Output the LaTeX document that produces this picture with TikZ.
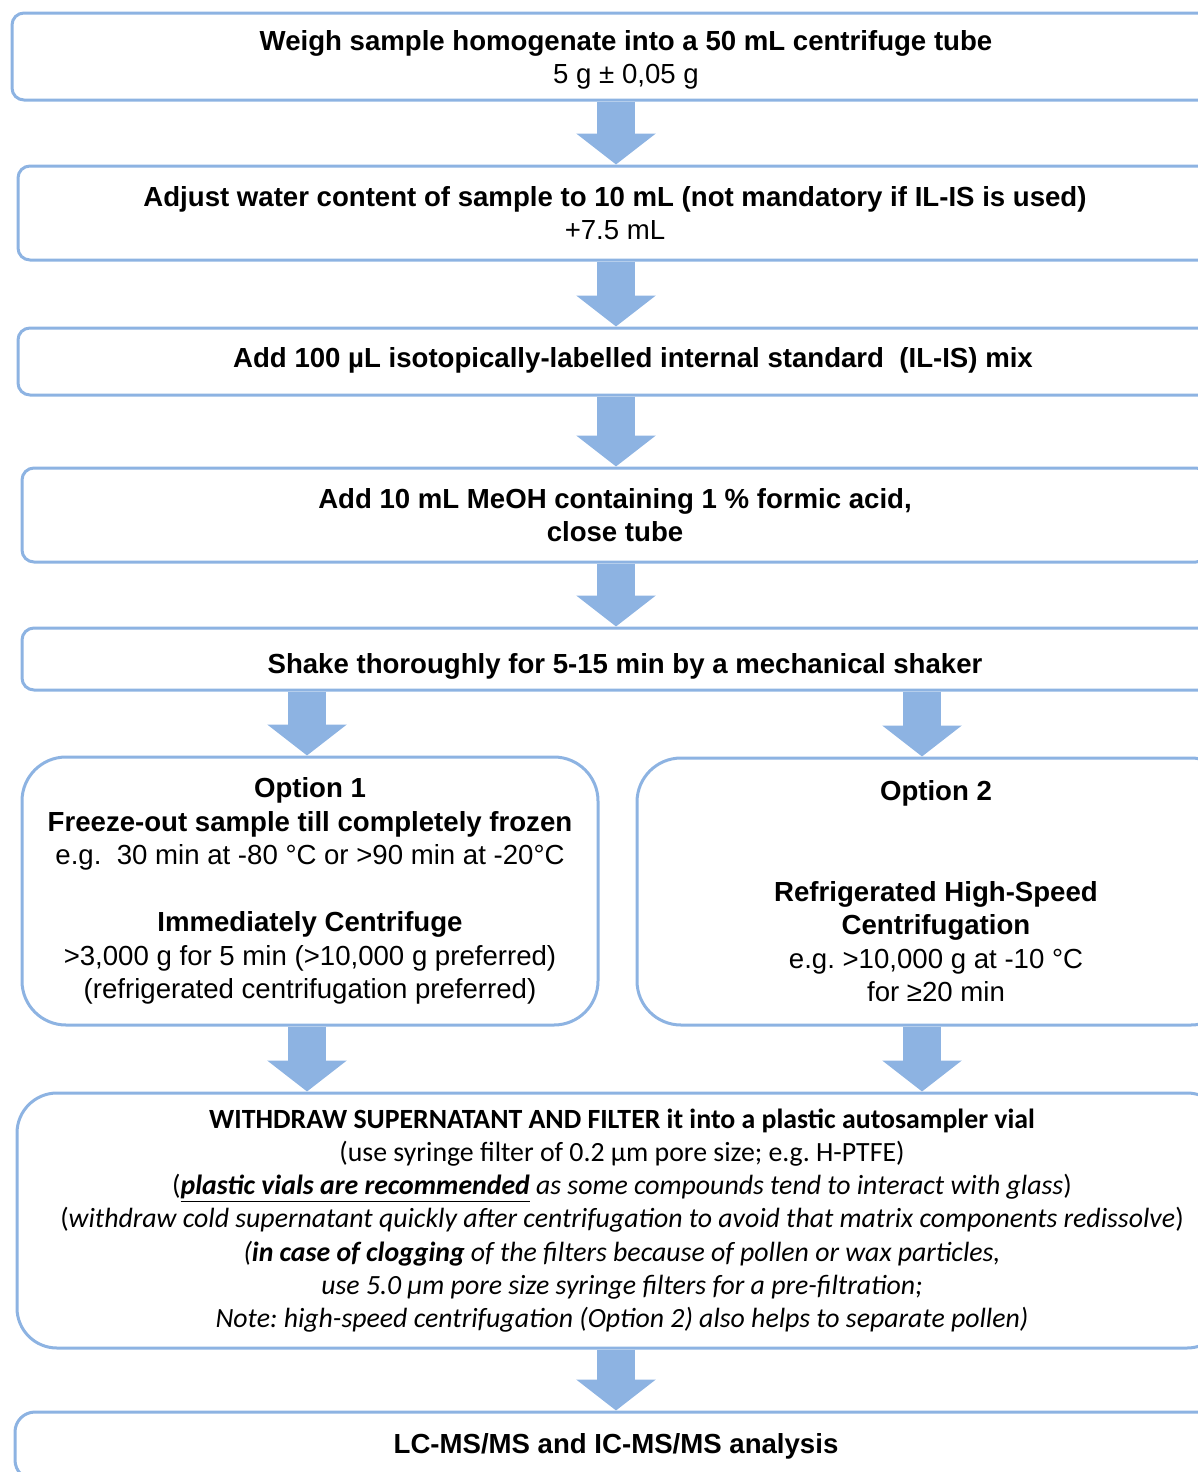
\documentclass[tikz,border=0pt]{standalone}
\usepackage{fontspec}
\setmainfont{Liberation Sans}
\newfontfamily\calibfont{Carlito}
\usetikzlibrary{arrows.meta}
\definecolor{flowblue}{HTML}{8DB3E2}
\frenchspacing

\begin{document}
\begin{tikzpicture}[
  x=0.5pt, y=-0.5pt,
  stepbox/.style={rectangle, rounded corners=6pt, draw=flowblue, line width=1.5pt,
    fill=white, minimum width=#1, inner sep=0pt, align=center,
    font=\fontsize{13.8}{16.75}\selectfont},
  optbox/.style={stepbox=#1, rounded corners=22pt},
  flow/.style={draw=flowblue, line width=19pt,
    -{Triangle[length=15.5pt, width=39pt]}}
]
\useasboundingbox (0,0) rectangle (1198,1472);
\clip (0,0) rectangle (1198,1472);

\node[stepbox=614pt, minimum height=43.5pt] (weigh) at (626,56.5) {
  \rule{0pt}{13.5pt}\textbf{Weigh sample homogenate into a 50 mL centrifuge tube}\\
  5 g ± 0,05 g};
\node[stepbox=597pt, minimum height=47pt] (water) at (615,213) {
  \textbf{Adjust water content of sample to 10 mL (not mandatory if IL-IS is used)}\\
  +7.5 mL};
\node[stepbox=615pt, minimum height=33.5pt, text height=6pt, text depth=0pt] (istd) at (633,361.5) {
  \textbf{Add 100 µL isotopically-labelled internal standard\ \ (IL-IS) mix}};
\node[stepbox=593pt, minimum height=47pt] (meoh) at (615,515) {
  \textbf{Add 10 mL MeOH containing 1 \% formic acid,}\\
  \textbf{close tube}};
\node[stepbox=603pt, minimum height=31pt, text height=14pt, text depth=0pt] (shake) at (625,659) {
  \textbf{Shake thoroughly for 5-15 min by a mechanical shaker}};

\node[optbox=288pt, minimum height=134pt] (opt1) at (310,891) {
  \textbf{Option 1}\\
  \textbf{Freeze-out sample till completely frozen}\\
  e.g.\ \ 30 min at -80 °C or >90 min at -20°C\\[16.75pt]
  \textbf{Immediately Centrifuge}\\
  >3,000 g for 5 min (>10,000 g preferred)\\
  (refrigerated centrifugation preferred)};
\node[optbox=299pt, minimum height=133.5pt] (opt2) at (936,891.5) {
  \textbf{Option 2}\\[33.5pt]
  \textbf{Refrigerated High-Speed}\\
  \textbf{Centrifugation}\\
  e.g. >10,000 g at -10 °C\\
  for ≥20 min};

\node[stepbox=605pt, minimum height=127.5pt, rounded corners=20pt,
  font=\calibfont\fontsize{13.9}{16.65}\selectfont] (filter) at (622,1220.5) {
  \textbf{WITHDRAW SUPERNATANT AND FILTER it into a plastic autosampler vial}\\
  (use syringe filter of 0.2 µm pore size; e.g. H-PTFE)\\
  (\textit{\textbf{\underline{plastic vials are recommended}} as some compounds tend to interact with glass})\\
  (\textit{withdraw cold supernatant quickly after centrifugation to avoid that matrix components redissolve})\\
  \textit{(\textbf{in case of clogging} of the filters because of pollen or wax particles,}\\
  \textit{use 5.0 µm pore size syringe filters for a pre-filtration;}\\
  \textit{Note: high-speed centrifugation (Option 2) also helps to separate pollen)}};
\node[stepbox=601pt, minimum height=34pt, rounded corners=10pt] (lcms) at (616,1446) {
  \textbf{LC-MS/MS and IC-MS/MS analysis}};

\coordinate (mid) at (616,0);
\coordinate (left) at (307,0);
\coordinate (right) at (922,0);
\draw[flow] (weigh.south -| mid) -- (water.north -| mid);
\draw[flow] (water.south -| mid) -- (istd.north -| mid);
\draw[flow] (istd.south -| mid) -- (meoh.north -| mid);
\draw[flow] (meoh.south -| mid) -- (shake.north -| mid);
\draw[flow] (shake.south -| left) -- (opt1.north -| left);
\draw[flow] (shake.south -| right) -- (opt2.north -| right);
\draw[flow] (opt1.south -| left) -- (filter.north -| left);
\draw[flow] (opt2.south -| right) -- (filter.north -| right);
\draw[flow] (filter.south -| mid) -- (lcms.north -| mid);
\end{tikzpicture}
\end{document}
